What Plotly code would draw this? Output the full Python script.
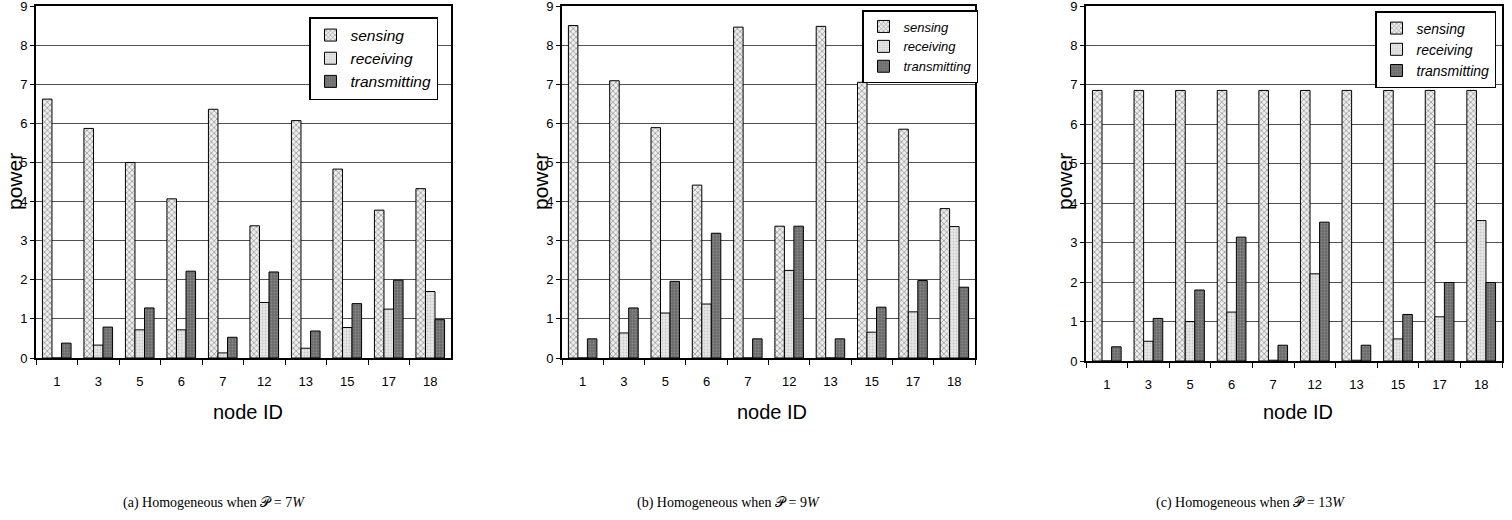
import plotly.graph_objects as go

nodes = ["1", "3", "5", "6", "7", "12", "13", "15", "17", "18"]

sensing_a = [6.62, 5.87, 5.00, 4.07, 6.36, 3.38, 6.07, 4.83, 3.78, 4.33]
receiving_a = [0.0, 0.33, 0.72, 0.72, 0.13, 1.42, 0.25, 0.78, 1.25, 1.70]
transmitting_a = [0.38, 0.79, 1.28, 2.22, 0.53, 2.20, 0.69, 1.39, 1.99, 0.98]

sensing_b = [8.50, 7.09, 5.89, 4.42, 8.46, 3.37, 8.48, 7.05, 5.85, 3.82]
receiving_b = [0.0, 0.64, 1.15, 1.38, 0.0, 2.24, 0.0, 0.66, 1.18, 3.36]
transmitting_b = [0.49, 1.28, 1.96, 3.19, 0.49, 3.37, 0.49, 1.30, 1.98, 1.81]

sensing_c = [6.86, 6.86, 6.86, 6.86, 6.86, 6.86, 6.86, 6.86, 6.86, 6.86]
receiving_c = [0.0, 0.50, 1.00, 1.24, 0.02, 2.21, 0.02, 0.56, 1.12, 3.56]
transmitting_c = [0.36, 1.08, 1.80, 3.14, 0.40, 3.52, 0.40, 1.18, 1.99, 1.99]

series_names = ["sensing", "receiving", "transmitting"]
captions = [
    "(a) Homogeneous when 𝒫 = 7<i>W</i>",
    "(b) Homogeneous when 𝒫 = 9<i>W</i>",
    "(c) Homogeneous when 𝒫 = 13<i>W</i>",
]
y_ticks = [0, 1, 2, 3, 4, 5, 6, 7, 8, 9]
y_tick_text = ["0", "1", "2", "3", "4", "5", "6", "7", "8", "9"]

W, H = 1512, 520
FONT = "Liberation Sans, Arial, sans-serif"

styles = {
    "sensing": dict(color="#e8e8e8",
                    pattern=dict(shape="x", fgcolor="#3c3c3c", bgcolor="#eeeeee",
                                 size=4, solidity=0.35)),
    "receiving": dict(color="#e0e0e0",
                      pattern=dict(shape=".", fgcolor="#a8a8a8", bgcolor="#e8e8e8",
                                   size=3, solidity=0.35)),
    "transmitting": dict(color="#707070",
                         pattern=dict(shape=".", fgcolor="#a8a8a8", bgcolor="#6a6a6a",
                                      size=3, solidity=0.3)),
}

panels = [
    dict(data=[sensing_a, receiving_a, transmitting_a], x0=36, x1=451, ytop=6, ybot=358,
         leg=(309, 17, 15.5), cap=(214, 503)),
    dict(data=[sensing_b, receiving_b, transmitting_b], x0=562, x1=975, ytop=6, ybot=358,
         leg=(862, 10, 13), cap=(728, 503)),
    dict(data=[sensing_c, receiving_c, transmitting_c], x0=1086, x1=1502, ytop=6, ybot=361,
         leg=(1375, 11, 14), cap=(1250, 503)),
]

fig = go.Figure()
layout = dict(
    width=W, height=H,
    margin=dict(l=0, r=0, t=0, b=0, autoexpand=False),
    paper_bgcolor="white", plot_bgcolor="white",
    barmode="group", bargap=0.31, bargroupgap=0.0,
    font=dict(family=FONT, color="black"),
    annotations=[],
)

for i, p in enumerate(panels):
    sfx = "" if i == 0 else str(i + 1)
    xa, ya = "x" + sfx, "y" + sfx
    legname = "legend" + sfx
    for name, vals in zip(series_names, p["data"]):
        st = styles[name]
        fig.add_trace(go.Bar(
            x=nodes, y=vals, name=name, xaxis=xa, yaxis=ya,
            legend=legname,
            marker=dict(color=st["color"], pattern=st["pattern"],
                        line=dict(color="black", width=1)),
        ))
    xd = [p["x0"] / W, p["x1"] / W]
    yd = [(H - p["ybot"]) / H, (H - p["ytop"]) / H]
    layout["xaxis" + sfx] = dict(
        domain=xd, anchor=ya, type="category", tickson="boundaries", automargin=False,
        ticks="outside", ticklen=5, tickcolor="black", tickwidth=1,
        showgrid=False, showline=True, linecolor="black", linewidth=2, mirror=True,
        tickfont=dict(size=13, family=FONT), ticklabelstandoff=10,
    )
    layout["yaxis" + sfx] = dict(
        domain=yd, anchor=xa, range=[0, 9.0005], tickmode="array", automargin=False,
        tickvals=y_ticks, ticktext=y_tick_text, ticklabeloverflow="allow",
        ticks="outside", ticklen=4, tickcolor="black",
        showgrid=True, gridcolor="#505050", gridwidth=1.2,
        showline=True, linecolor="black", linewidth=2, mirror=True,
        tickfont=dict(size=13, family=FONT), zeroline=False,
    )
    lx, ly, lfs = p["leg"]
    layout[legname] = dict(
        x=lx / W, y=(H - ly) / H, xanchor="left", yanchor="top",
        bgcolor="white", bordercolor="black", borderwidth=1.5,
        font=dict(size=lfs, family=FONT, style="italic"),
        itemwidth=30, tracegroupgap=0,
    )
    cx = (p["x0"] + p["x1"]) / 2 + 4
    layout["annotations"].append(dict(
        text="node ID", x=cx / W, y=(H - 412) / H, xref="paper", yref="paper",
        showarrow=False, font=dict(size=20, family=FONT), xanchor="center", yanchor="middle",
    ))
    layout["annotations"].append(dict(
        text="power", x=(p["x0"] - 22) / W, y=(H - 182) / H, xref="paper", yref="paper",
        showarrow=False, textangle=-90, font=dict(size=21, family=FONT),
        xanchor="center", yanchor="middle",
    ))
    cxp, cyp = p["cap"]
    layout["annotations"].append(dict(
        text=captions[i], x=cxp / W, y=(H - cyp) / H, xref="paper", yref="paper",
        showarrow=False, font=dict(size=14, family="Liberation Serif, Times New Roman, serif"),
        xanchor="center", yanchor="middle",
    ))

fig.update_layout(**layout)
fig.write_html("out.html")
